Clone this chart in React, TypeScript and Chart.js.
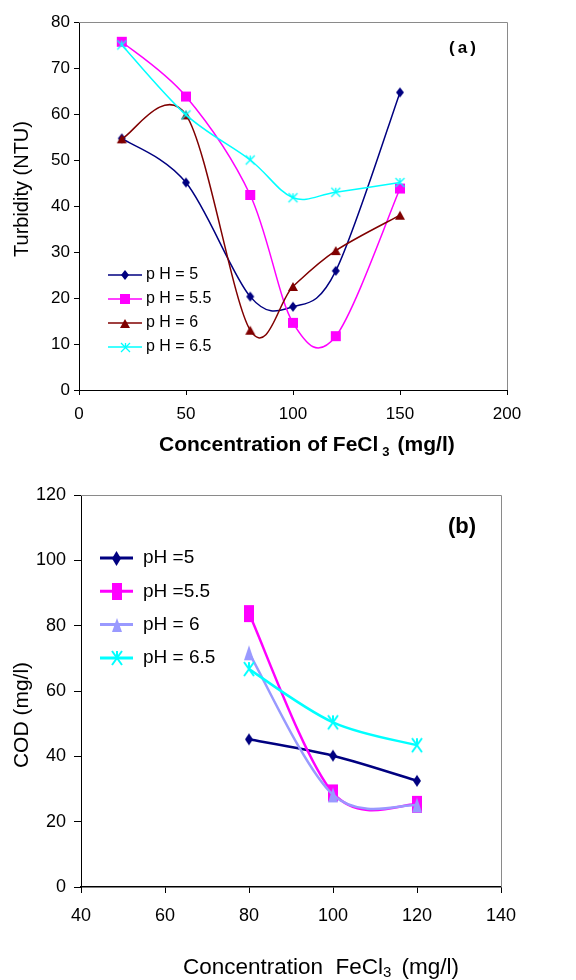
import React, { useEffect, useRef } from 'react';
import { Chart, registerables } from 'chart.js';

Chart.register(...registerables);

const FONT = "'Liberation Sans', Arial, Helvetica, sans-serif";

// ---------- Panel (a): Turbidity ----------
const concA = [20, 50, 80, 100, 120, 150];
const turbPH5 = [54.7, 45.1, 20.3, 18.1, 25.9, 64.7];
const turbPH55 = [75.7, 63.8, 42.4, 14.6, 11.7, 43.8];
const turbPH6 = [54.6, 59.8, 13.0, 22.5, 30.3, 38.0];
const turbPH65 = [75.0, 59.8, 50.0, 41.8, 43.0, 45.1];
const xTicksA = [0, 50, 100, 150, 200];
const yTicksA = [0, 10, 20, 30, 40, 50, 60, 70, 80];
const labelsA = ['p H = 5', 'p H = 5.5', 'p H = 6', 'p H = 6.5'];
const colorsA = ['#000080', '#FF00FF', '#800000', '#00FFFF'];

// ---------- Panel (b): COD ----------
const concB = [80, 100, 120];
const codPH5 = [45.2, 40.2, 32.5];
const codPH55 = [83.7, 28.8, 25.3];
const codPH6 = [71.7, 28.2, 25.1];
const codPH65 = [66.7, 50.4, 43.4];
const xTicksB = [40, 60, 80, 100, 120, 140];
const yTicksB = [0, 20, 40, 60, 80, 100, 120];
const labelsB = ['pH =5', 'pH =5.5', 'pH = 6', 'pH = 6.5'];
const colorsB = ['#000080', '#FF00FF', '#9999FF', '#00FFFF'];

type Kind = 'diamond' | 'square' | 'triangle' | 'star';

function makeMarker(kind: Kind, w: number, h: number, color: string, lw = 1.5): HTMLCanvasElement {
  const pad = 2;
  const c = document.createElement('canvas');
  c.width = Math.ceil(w + pad * 2);
  c.height = Math.ceil(h + pad * 2);
  const ctx = c.getContext('2d')!;
  ctx.translate(pad, pad);
  ctx.fillStyle = color;
  ctx.strokeStyle = color;
  ctx.lineWidth = lw;
  ctx.beginPath();
  if (kind === 'diamond') {
    ctx.moveTo(w / 2, 0);
    ctx.lineTo(w, h / 2);
    ctx.lineTo(w / 2, h);
    ctx.lineTo(0, h / 2);
    ctx.closePath();
    ctx.fill();
  } else if (kind === 'square') {
    ctx.fillRect(0, 0, w, h);
  } else if (kind === 'triangle') {
    ctx.moveTo(w / 2, 0);
    ctx.lineTo(w, h);
    ctx.lineTo(0, h);
    ctx.closePath();
    ctx.fill();
  } else {
    ctx.moveTo(0, 0);
    ctx.lineTo(w, h);
    ctx.moveTo(w, 0);
    ctx.lineTo(0, h);
    ctx.moveTo(w / 2, 0);
    ctx.lineTo(w / 2, h / 2);
    ctx.stroke();
  }
  return c;
}

// Excel-like smoothing (uniform Catmull-Rom, 1/6 tangent factor)
const excelSmooth = {
  id: 'excelSmooth',
  beforeDatasetDraw(chart: any, args: any) {
    const meta = args.meta;
    const line = meta.dataset;
    if (!line) return;
    if (typeof line.updateControlPoints === 'function') line.updateControlPoints(chart.chartArea, 'x');
    const pts = meta.data;
    const n = pts.length;
    for (let i = 0; i < n; i++) {
      const p = pts[i];
      const prev = pts[Math.max(0, i - 1)];
      const next = pts[Math.min(n - 1, i + 1)];
      const tx = (next.x - prev.x) / 6;
      const ty = (next.y - prev.y) / 6;
      p.cp1x = p.x - tx;
      p.cp1y = p.y - ty;
      p.cp2x = p.x + tx;
      p.cp2y = p.y + ty;
    }
    line._path = undefined;
  },
};

interface DecorCfg {
  legendLabels: string[];
  colors: string[];
  legendMarkers: HTMLCanvasElement[];
  legendLineWidth: number;
  lx1: number;
  lx2: number;
  ltx: number;
  ly0: number;
  ldy: number;
  legendFont: string;
  panel: string;
  panelFont: string;
  panelX: number;
  panelY: number;
  panelSpacing: string;
  yTitle: string;
  yTitleFont: string;
  yTitleX: number;
  yTitleY: number;
  xTitleParts: { main: string; sub: string; tail: string };
  xTitleFont: string;
  xSubFont: string;
  xTitleX: number;
  xTitleBaseline: number;
  subGapBefore: number;
  subDrop: number;
  subGapAfter: number;
}

function decorPlugin(cfg: DecorCfg) {
  return {
    id: 'decor',
    beforeDatasetsDraw(chart: any) {
      const { ctx, chartArea: ca } = chart;
      ctx.save();
      ctx.strokeStyle = '#8a8a8a';
      ctx.lineWidth = 1;
      ctx.beginPath();
      const t = Math.round(ca.top) + 0.5;
      const r = Math.round(ca.right) + 0.5;
      ctx.moveTo(Math.round(ca.left), t);
      ctx.lineTo(r, t);
      ctx.lineTo(r, Math.round(ca.bottom));
      ctx.stroke();
      ctx.restore();
    },
    afterDraw(chart: any) {
      const { ctx } = chart;
      ctx.save();
      // legend
      for (let i = 0; i < cfg.legendLabels.length; i++) {
        const y = cfg.ly0 + i * cfg.ldy;
        ctx.strokeStyle = cfg.colors[i];
        ctx.lineWidth = cfg.legendLineWidth;
        ctx.beginPath();
        ctx.moveTo(cfg.lx1, y);
        ctx.lineTo(cfg.lx2, y);
        ctx.stroke();
        const m = cfg.legendMarkers[i];
        const cx = (cfg.lx1 + cfg.lx2) / 2;
        ctx.drawImage(m, Math.round(cx - m.width / 2), Math.round(y - m.height / 2));
        ctx.fillStyle = '#000';
        ctx.font = cfg.legendFont;
        ctx.textAlign = 'left';
        ctx.textBaseline = 'middle';
        ctx.fillText(cfg.legendLabels[i], cfg.ltx, y);
      }
      // panel label
      ctx.font = cfg.panelFont;
      ctx.fillStyle = '#000';
      ctx.textAlign = 'center';
      ctx.textBaseline = 'middle';
      (ctx as any).letterSpacing = cfg.panelSpacing;
      ctx.fillText(cfg.panel, cfg.panelX, cfg.panelY);
      (ctx as any).letterSpacing = '0px';
      // y title
      ctx.save();
      ctx.translate(cfg.yTitleX, cfg.yTitleY);
      ctx.rotate(-Math.PI / 2);
      ctx.font = cfg.yTitleFont;
      ctx.textAlign = 'center';
      ctx.textBaseline = 'middle';
      ctx.fillText(cfg.yTitle, 0, 0);
      ctx.restore();
      // x title with subscript
      ctx.textAlign = 'left';
      ctx.textBaseline = 'alphabetic';
      let x = cfg.xTitleX;
      ctx.font = cfg.xTitleFont;
      ctx.fillText(cfg.xTitleParts.main, x, cfg.xTitleBaseline);
      x += ctx.measureText(cfg.xTitleParts.main).width + cfg.subGapBefore;
      ctx.font = cfg.xSubFont;
      ctx.fillText(cfg.xTitleParts.sub, x, cfg.xTitleBaseline + cfg.subDrop);
      x += ctx.measureText(cfg.xTitleParts.sub).width + cfg.subGapAfter;
      ctx.font = cfg.xTitleFont;
      ctx.fillText(cfg.xTitleParts.tail, x, cfg.xTitleBaseline);
      ctx.restore();
    },
  };
}

function buildA(): any {
  const kinds: Kind[] = ['diamond', 'square', 'triangle', 'star'];
  const sizes = [
    [8, 10],
    [10, 10],
    [10, 9],
    [9, 9],
  ];
  const series = [turbPH5, turbPH55, turbPH6, turbPH65];
  const markers = kinds.map((k, i) => makeMarker(k, sizes[i][0], sizes[i][1], colorsA[i], 1.3));
  const legendMarkers = kinds.map((k, i) => makeMarker(k, sizes[i][0], sizes[i][1], colorsA[i], 1.3));
  const datasets = series.map((s, i) => ({
    label: labelsA[i],
    data: concA.map((x, j) => ({ x, y: s[j] })),
    borderColor: colorsA[i],
    backgroundColor: colorsA[i],
    borderWidth: 1.5,
    pointStyle: markers[i],
    pointRadius: 5,
    tension: 0.4,
    fill: false,
    order: -i,
  }));
  return {
    type: 'line',
    data: { datasets },
    options: {
      responsive: false,
      animation: false,
      devicePixelRatio: 1,
      layout: { padding: { left: 0, top: 22, right: 69, bottom: 0 } },
      plugins: { legend: { display: false }, tooltip: { enabled: false } },
      scales: {
        x: {
          type: 'linear',
          min: 0,
          max: 200,
          afterBuildTicks: (s: any) => {
            s.ticks = xTicksA.map((v) => ({ value: v }));
          },
          afterFit: (s: any) => {
            s.height = 80;
          },
          grid: { display: true, drawOnChartArea: false, drawTicks: true, tickLength: 5, color: '#000' },
          border: { display: true, color: '#000', width: 1 },
          ticks: { padding: 9, color: '#000', font: { family: FONT, size: 17 }, maxRotation: 0 },
        },
        y: {
          type: 'linear',
          min: 0,
          max: 80,
          afterBuildTicks: (s: any) => {
            s.ticks = yTicksA.map((v) => ({ value: v }));
          },
          afterFit: (s: any) => {
            s.width = 79;
          },
          grid: { display: true, drawOnChartArea: false, drawTicks: true, tickLength: 5, color: '#000' },
          border: { display: true, color: '#000', width: 1 },
          ticks: { padding: 4, color: '#000', font: { family: FONT, size: 17 } },
        },
      },
    },
    plugins: [
      excelSmooth,
      decorPlugin({
        legendLabels: labelsA,
        colors: colorsA,
        legendMarkers,
        legendLineWidth: 1.5,
        lx1: 108,
        lx2: 142,
        ltx: 146,
        ly0: 275,
        ldy: 24,
        legendFont: `16px ${FONT}`,
        panel: '(a)',
        panelFont: `bold 17px ${FONT}`,
        panelX: 464,
        panelY: 48,
        panelSpacing: '3px',
        yTitle: 'Turbidity (NTU)',
        yTitleFont: `20px ${FONT}`,
        yTitleX: 22,
        yTitleY: 189,
        xTitleParts: { main: 'Concentration of FeCl', sub: '3', tail: '(mg/l)' },
        xTitleFont: `bold 21px ${FONT}`,
        xSubFont: `bold 13px ${FONT}`,
        xTitleX: 159,
        xTitleBaseline: 451,
        subGapBefore: 4,
        subDrop: 5,
        subGapAfter: 8,
      }),
    ],
  };
}

function buildB(): any {
  const kinds: Kind[] = ['diamond', 'square', 'triangle', 'star'];
  const sizes = [
    [8, 12],
    [10, 17],
    [10, 15],
    [10, 14],
  ];
  const lsizes = [
    [9, 15],
    [10, 17],
    [10, 14],
    [10, 14],
  ];
  const series = [codPH5, codPH55, codPH6, codPH65];
  const markers = kinds.map((k, i) => makeMarker(k, sizes[i][0], sizes[i][1], colorsB[i], 2));
  const legendMarkers = kinds.map((k, i) => makeMarker(k, lsizes[i][0], lsizes[i][1], colorsB[i], 2));
  const datasets = series.map((s, i) => ({
    label: labelsB[i],
    data: concB.map((x, j) => ({ x, y: s[j] })),
    borderColor: colorsB[i],
    backgroundColor: colorsB[i],
    borderWidth: 2.5,
    pointStyle: markers[i],
    pointRadius: 6,
    tension: 0.4,
    fill: false,
    order: -i,
  }));
  return {
    type: 'line',
    data: { datasets },
    options: {
      responsive: false,
      animation: false,
      devicePixelRatio: 1,
      layout: { padding: { left: 0, top: 25, right: 75, bottom: 0 } },
      plugins: { legend: { display: false }, tooltip: { enabled: false } },
      scales: {
        x: {
          type: 'linear',
          min: 40,
          max: 140,
          afterBuildTicks: (s: any) => {
            s.ticks = xTicksB.map((v) => ({ value: v }));
          },
          afterFit: (s: any) => {
            s.height = 93;
          },
          grid: { display: true, drawOnChartArea: false, drawTicks: true, tickLength: 6, color: '#000' },
          border: { display: true, color: '#000', width: 1.5 },
          ticks: { padding: 12, color: '#000', font: { family: FONT, size: 18 }, maxRotation: 0 },
        },
        y: {
          type: 'linear',
          min: 0,
          max: 120,
          afterBuildTicks: (s: any) => {
            s.ticks = yTicksB.map((v) => ({ value: v }));
          },
          afterFit: (s: any) => {
            s.width = 81;
          },
          grid: { display: true, drawOnChartArea: false, drawTicks: true, tickLength: 7, color: '#000' },
          border: { display: true, color: '#000', width: 1 },
          ticks: { padding: 8, color: '#000', font: { family: FONT, size: 18 } },
        },
      },
    },
    plugins: [
      excelSmooth,
      decorPlugin({
        legendLabels: labelsB,
        colors: colorsB,
        legendMarkers,
        legendLineWidth: 3,
        lx1: 100,
        lx2: 133,
        ltx: 143,
        ly0: 88,
        ldy: 33.3,
        legendFont: `19px ${FONT}`,
        panel: '(b)',
        panelFont: `bold 22px ${FONT}`,
        panelX: 462,
        panelY: 57,
        panelSpacing: '0px',
        yTitle: 'COD (mg/l)',
        yTitleFont: `21px ${FONT}`,
        yTitleX: 22,
        yTitleY: 245,
        xTitleParts: { main: 'Concentration  FeCl', sub: '3', tail: '(mg/l)' },
        xTitleFont: `22.5px ${FONT}`,
        xSubFont: `15px ${FONT}`,
        xTitleX: 183,
        xTitleBaseline: 504,
        subGapBefore: 0,
        subDrop: 3,
        subGapAfter: 10,
      }),
    ],
  };
}

export default function App() {
  const refA = useRef<HTMLCanvasElement>(null);
  const refB = useRef<HTMLCanvasElement>(null);
  useEffect(() => {
    const prevMargin = document.body.style.margin;
    document.body.style.margin = '0';
    const a = new Chart(refA.current!, buildA());
    const b = new Chart(refB.current!, buildB());
    return () => {
      a.destroy();
      b.destroy();
      document.body.style.margin = prevMargin;
    };
  }, []);
  return (
    <div style={{ position: 'relative', width: 576, height: 980, background: '#fff', overflow: 'hidden' }}>
      <canvas ref={refA} width={576} height={470} style={{ position: 'absolute', left: 0, top: 0, width: 576, height: 470 }} />
      <canvas ref={refB} width={576} height={510} style={{ position: 'absolute', left: 0, top: 470, width: 576, height: 510 }} />
    </div>
  );
}
